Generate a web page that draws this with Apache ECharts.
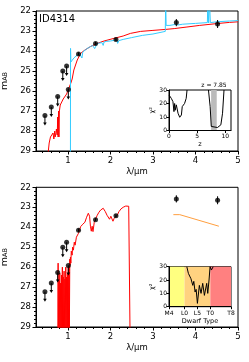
<!DOCTYPE html>
<html><head><meta charset="utf-8">
<script src="https://cdn.jsdelivr.net/npm/echarts@6/dist/echarts.min.js"></script>
<style>html,body{margin:0;padding:0;background:#fff}#c{width:249px;height:362px}</style>
</head><body><div id="c"></div>
<script>
// ---- photometry ----
const limX = [0.46, 0.61, 0.76, 0.88, 0.97, 1.01];
const limY = [27.23, 26.80, 26.27, 25.00, 24.75, 25.92];
const limLen = 0.5;
const detX = [1.25, 1.65, 2.13, 3.55, 4.52];
const detY = [24.15, 23.62, 23.43, 22.58, 22.65];
const detErr = [0.08, 0.07, 0.07, 0.18, 0.20];

// ---- galaxy template (red, top) ----
const galX = [0.53, 0.56, 0.59, 0.61, 0.63, 0.65, 0.67, 0.69, 0.70, 0.72, 0.73, 0.75, 0.76, 0.77, 0.78, 0.79, 0.80, 0.82, 0.85, 0.89, 0.93, 0.97, 1.02, 1.07, 1.10, 1.14, 1.18, 1.22, 1.30, 1.40, 1.53, 1.69, 1.85, 2.08, 2.30, 2.47, 2.71, 3.0, 3.3, 3.5, 3.8, 4.1, 4.5, 4.8, 5.0];
const galY = [29.2, 28.6, 28.3, 28.2, 28.35, 28.1, 28.4, 28.0, 28.3, 28.1, 27.9, 28.2, 27.3, 28.3, 27.0, 28.3, 27.0, 26.7, 26.6, 26.4, 26.3, 26.15, 25.87, 25.6, 25.4, 24.95, 24.7, 24.45, 24.12, 23.95, 23.78, 23.62, 23.5, 23.37, 23.25, 23.12, 23.02, 22.97, 22.92, 22.88, 22.8, 22.72, 22.63, 22.57, 22.54];

// ---- alternative template (cyan, top) ----
const cyX = [1.06, 1.062, 1.07, 1.10, 1.14, 1.18, 1.22, 1.27, 1.30, 1.33, 1.35, 1.38, 1.45, 1.53, 1.58, 1.61, 1.63, 1.69, 1.75, 1.80, 1.83, 1.85, 1.90, 2.0, 2.10, 2.15, 2.17, 2.20, 2.30, 2.5, 2.75, 3.0, 3.29, 3.30, 3.31, 3.4, 3.5, 3.54, 3.58, 3.7, 4.0, 4.28, 4.29, 4.31, 4.33, 4.35, 4.37, 4.5, 4.8, 5.0];
const cyY = [29.5, 23.87, 24.55, 24.45, 24.35, 24.25, 24.2, 24.12, 24.1, 24.35, 24.05, 23.98, 23.88, 23.78, 23.72, 23.75, 23.88, 23.62, 23.6, 23.58, 23.72, 23.55, 23.52, 23.5, 23.46, 23.45, 23.62, 23.48, 23.42, 23.33, 23.22, 23.15, 23.02, 21.5, 22.72, 22.72, 22.68, 22.78, 22.7, 22.66, 22.62, 22.58, 21.5, 22.6, 21.5, 22.58, 22.55, 22.54, 22.5, 22.48];

// ---- brown dwarf template (red, bottom) ----
const bdX = [0.766, 0.770, 0.774, 0.786, 0.790, 0.794, 0.806, 0.810, 0.814, 0.826, 0.830, 0.834, 0.846, 0.850, 0.854, 0.866, 0.870, 0.874, 0.886, 0.890, 0.894, 0.906, 0.910, 0.914, 0.926, 0.930, 0.934, 0.946, 0.950, 0.954, 0.966, 0.970, 0.974, 0.986, 0.990, 0.994, 1.006, 1.010, 1.014, 1.026, 1.030, 1.034, 1.045,
  1.05, 1.06, 1.07, 1.08, 1.10, 1.11, 1.13, 1.15, 1.17, 1.20, 1.22, 1.25, 1.28, 1.30, 1.35, 1.40, 1.44, 1.48, 1.51, 1.53, 1.55, 1.57, 1.59, 1.62, 1.65, 1.69, 1.73, 1.77, 1.83, 1.88, 1.92, 1.95, 1.98, 2.01, 2.04, 2.06, 2.09, 2.12, 2.16, 2.20, 2.25, 2.30, 2.36, 2.43, 2.46, 2.462];
const bdY = [29.5, 25.8, 29.5, 29.5, 26.7, 29.5, 29.5, 26.3, 29.5, 29.5, 26.8, 29.5, 29.5, 26.4, 29.5, 29.5, 26.0, 29.5, 29.5, 26.5, 29.5, 29.5, 26.2, 29.5, 29.5, 26.6, 29.5, 29.5, 26.0, 29.5, 29.5, 26.5, 29.5, 29.5, 26.3, 29.5, 29.5, 26.0, 29.5, 29.5, 25.9, 29.5, 25.6,
  25.9, 25.5, 25.8, 25.2, 25.4, 25.0, 25.15, 24.75, 24.9, 24.5, 24.6, 24.3, 24.1, 23.97, 23.85, 23.75, 23.5, 23.3, 23.45, 23.95, 24.2, 23.95, 24.22, 23.75, 23.6, 23.4, 23.25, 23.14, 23.05, 23.22, 23.4, 23.5, 23.6, 23.45, 23.55, 23.7, 23.55, 23.45, 23.4, 23.22, 23.08, 23.0, 22.94, 22.95, 22.97, 29.5];

// ---- orange model (bottom) ----
const orX = [3.48, 3.63, 4.55];
const orY = [23.37, 23.37, 23.95];

// ---- chi2 vs redshift ----
const zA = [0, 0.41, 0.7, 0.88, 1.0, 1.1, 1.3, 1.6, 1.9, 2.2, 2.35, 2.76, 3.05, 3.2];
const chiA = [26.3, 23.8, 21.4, 14, 20, 15, 19, 12.8, 9.8, 11.5, 17.7, 20, 23.8, 30];
const zB = [7.0, 7.3, 7.5, 7.76, 8.6, 9.2, 9.5, 9.76];
const chiB = [30, 17.7, 3, 1.7, 2.2, 4.2, 12.8, 30];
const zRange = [[7.47, 8.47]];
const zLabel = 'z = 7.85';

// ---- chi2 vs dwarf type (0 = M4 ... 24 = T8) ----
const dtIdx = [6.9, 7.5, 8.0, 8.5, 9.2, 9.6, 10.1, 10.5, 11.0, 11.75, 12.4, 13.05, 13.7, 14.6, 15.0, 15.5, 15.9, 16.4, 16.8, 17.1];
const dtChi = [30, 25, 23, 21, 16, 19, 11, 13, 2.5, 16, 10, 17.5, 8.5, 17.5, 10, 20, 30, 27.5, 29, 30];
const dtTickIdx = [0, 6, 11, 16, 24];
const dtTickLab = ['M4', 'L0', 'L5', 'T0', 'T8'];
const dtBands = [[0, 6], [6, 16], [16, 24]];

const xTicks = [1, 2, 3, 4, 5];
const magTicksMin = 22, magTicksMax = 29;

// ---------------------------------------------------------
const FF = 'DejaVu Sans';
const bandColors = ['#ffff80', '#ffd280', '#ff8080'];
const zip = (a, b) => a.map((v, i) => [v, b[i]]);
const xMinor = [];
for (let v = 0.4; v < 5; v += 0.2) { const r = Math.round(v * 10) / 10; if (Math.abs(r - Math.round(r)) > 1e-6) xMinor.push(r); }

function limRender(params, api) {
  const x = api.value(0), y = api.value(1);
  const p0 = api.coord([x, y]);
  const p1 = api.coord([x, y + limLen]);
  return { type: 'group', children: [
    { type: 'line', shape: { x1: p0[0], y1: p0[1], x2: p1[0], y2: p1[1] - 2 }, style: { stroke: '#000', lineWidth: 1 } },
    { type: 'polygon', shape: { points: [[p1[0] - 1.8, p1[1] - 3], [p1[0] + 1.8, p1[1] - 3], [p1[0], p1[1]]] }, style: { fill: '#000' } }
  ]};
}
function errRender(params, api) {
  const x = api.value(0), y = api.value(1), e = api.value(2);
  const a = api.coord([x, y - e]), b = api.coord([x, y + e]);
  return { type: 'line', shape: { x1: a[0], y1: a[1], x2: b[0], y2: b[1] }, style: { stroke: '#000', lineWidth: 1 } };
}
function bandRender(colors) {
  return function (params, api) {
    const a = api.coord([api.value(0), 30]), b = api.coord([api.value(1), 0]);
    return { type: 'rect', shape: { x: a[0], y: a[1], width: b[0] - a[0], height: b[1] - a[1] }, style: { fill: colors[params.dataIndex % colors.length] } };
  };
}

const mainX = (g) => ({
  gridIndex: g, type: 'value', min: 0.25, max: 5,
  axisLine: { show: true, onZero: false, lineStyle: { color: '#000', width: 1 } },
  axisTick: { show: true, length: 3.5, customValues: xTicks, lineStyle: { color: '#000' } },
  axisLabel: { customValues: xTicks, margin: 5, color: '#000', fontSize: 8.5, fontFamily: FF },
  splitLine: { show: false },
  name: 'λ/μm', nameLocation: 'middle', nameGap: 16, nameTextStyle: { color: '#000', fontSize: 8.5, fontFamily: FF }
});
const minorX = (g) => ({
  gridIndex: g, type: 'value', min: 0.25, max: 5, position: 'bottom',
  axisLine: { show: false }, axisLabel: { show: false }, splitLine: { show: false },
  axisTick: { show: true, length: 2, customValues: xMinor, lineStyle: { color: '#000' } }
});
const mainY = (g) => ({
  gridIndex: g, type: 'value', min: magTicksMin, max: magTicksMax, interval: 1, inverse: true,
  axisLine: { show: true, onZero: false, lineStyle: { color: '#000', width: 1 } },
  axisTick: { show: true, length: 3.5, lineStyle: { color: '#000' } },
  minorTick: { show: true, splitNumber: 5, length: 2, lineStyle: { color: '#000' } },
  axisLabel: { margin: 5, color: '#000', fontSize: 8.5, fontFamily: FF },
  splitLine: { show: false },
  name: '{a|m}{b|AB}', nameLocation: 'middle', nameGap: 20, nameRotate: 90,
  nameTextStyle: { color: '#000', fontFamily: FF, rich: {
    a: { fontSize: 9.5, fontFamily: FF, color: '#000' },
    b: { fontSize: 6.5, fontFamily: FF, color: '#000', verticalAlign: 'bottom', lineHeight: 8 } } }
});
const insetY = (g) => ({
  gridIndex: g, type: 'value', min: 0, max: 30, interval: 10, z: 8,
  axisLine: { show: true, onZero: false, lineStyle: { color: '#000', width: 1 } },
  axisTick: { show: true, length: 2.5, lineStyle: { color: '#000' } },
  axisLabel: { margin: 2, color: '#000', fontSize: 6, fontFamily: FF },
  splitLine: { show: false },
  name: 'χ²', nameLocation: 'middle', nameGap: 9, nameRotate: 90,
  nameTextStyle: { color: '#000', fontSize: 6.5, fontFamily: FF }
});
const gridBase = { show: true, borderColor: '#000', borderWidth: 1, containLabel: false, outerBoundsMode: 'none' };

const option = {
  animation: false,
  backgroundColor: '#fff',
  grid: [
    Object.assign({ left: 36, top: 11, width: 202, height: 140, backgroundColor: 'transparent' }, gridBase),
    Object.assign({ left: 169, top: 90, width: 62, height: 40.5, backgroundColor: '#fff', z: 5 }, gridBase),
    Object.assign({ left: 36, top: 187.3, width: 202, height: 139.7, backgroundColor: 'transparent' }, gridBase),
    Object.assign({ left: 169, top: 266.7, width: 62, height: 40, backgroundColor: '#fff', z: 5 }, gridBase)
  ],
  xAxis: [
    mainX(0),
    { gridIndex: 1, type: 'value', min: 0, max: 11, z: 8,
      axisLine: { show: true, onZero: false, lineStyle: { color: '#000', width: 1 } },
      axisTick: { show: true, length: 2.5, customValues: [0, 5, 10], lineStyle: { color: '#000' } },
      axisLabel: { customValues: [0, 5, 10], margin: 3, color: '#000', fontSize: 6, fontFamily: FF },
      splitLine: { show: false },
      name: 'z', nameLocation: 'middle', nameGap: 10, nameTextStyle: { color: '#000', fontSize: 6.5, fontFamily: FF } },
    mainX(2),
    { gridIndex: 3, type: 'value', min: 0, max: 24, z: 8,
      axisLine: { show: true, onZero: false, lineStyle: { color: '#000', width: 1 } },
      axisTick: { show: true, length: 2.5, customValues: dtTickIdx, lineStyle: { color: '#000' } },
      axisLabel: { customValues: dtTickIdx, margin: 4, color: '#000', fontSize: 6, fontFamily: FF,
        formatter: (v) => { const i = dtTickIdx.indexOf(v); return i >= 0 ? dtTickLab[i] : ''; } },
      splitLine: { show: false },
      name: 'Dwarf Type', nameLocation: 'middle', nameGap: 11, nameTextStyle: { color: '#000', fontSize: 6.5, fontFamily: FF } },
    minorX(0),
    minorX(2)
  ],
  yAxis: [mainY(0), insetY(1), mainY(2), insetY(3)],
  graphic: [
    { type: 'text', left: 39, top: 14, style: { text: 'ID4314', fontSize: 10, fontFamily: FF, fill: '#000' } },
    { type: 'text', x: 214, y: 85, style: { text: zLabel, fontSize: 6, fontFamily: FF, fill: '#000', textAlign: 'center', textVerticalAlign: 'middle' } }
  ],
  series: [
    { type: 'line', xAxisIndex: 0, yAxisIndex: 0, data: zip(galX, galY), showSymbol: false, lineStyle: { color: '#ff0000', width: 1 }, clip: true, z: 2 },
    { type: 'line', xAxisIndex: 0, yAxisIndex: 0, data: zip(cyX, cyY), showSymbol: false, lineStyle: { color: '#33ccff', width: 1 }, clip: true, z: 3 },
    { type: 'custom', xAxisIndex: 0, yAxisIndex: 0, data: zip(limX, limY), renderItem: limRender, z: 4 },
    { type: 'custom', xAxisIndex: 0, yAxisIndex: 0, data: detX.map((x, i) => [x, detY[i], detErr[i]]), renderItem: errRender, z: 4 },
    { type: 'scatter', xAxisIndex: 0, yAxisIndex: 0, data: zip(limX.concat(detX), limY.concat(detY)), symbolSize: 5, itemStyle: { color: '#000' }, z: 5 },
    { type: 'custom', xAxisIndex: 1, yAxisIndex: 1, data: zRange, renderItem: bandRender(['#bbbbbb']), z: 6 },
    { type: 'line', xAxisIndex: 1, yAxisIndex: 1, data: zip(zA, chiA), showSymbol: false, lineStyle: { color: '#000', width: 1 }, clip: true, z: 7 },
    { type: 'line', xAxisIndex: 1, yAxisIndex: 1, data: zip(zB, chiB), showSymbol: false, lineStyle: { color: '#000', width: 1 }, clip: true, z: 7 },
    { type: 'line', xAxisIndex: 2, yAxisIndex: 2, data: zip(bdX, bdY), showSymbol: false, lineStyle: { color: '#ff0000', width: 1 }, clip: true, z: 2 },
    { type: 'line', xAxisIndex: 2, yAxisIndex: 2, data: zip(orX, orY), showSymbol: false, lineStyle: { color: '#ff9f3f', width: 1 }, clip: true, z: 2 },
    { type: 'custom', xAxisIndex: 2, yAxisIndex: 2, data: zip(limX, limY), renderItem: limRender, z: 4 },
    { type: 'custom', xAxisIndex: 2, yAxisIndex: 2, data: detX.map((x, i) => [x, detY[i], detErr[i]]), renderItem: errRender, z: 4 },
    { type: 'scatter', xAxisIndex: 2, yAxisIndex: 2, data: zip(limX.concat(detX), limY.concat(detY)), symbolSize: 5, itemStyle: { color: '#000' }, z: 5 },
    { type: 'custom', xAxisIndex: 3, yAxisIndex: 3, data: dtBands, renderItem: bandRender(bandColors), z: 6 },
    { type: 'line', xAxisIndex: 3, yAxisIndex: 3, data: zip(dtIdx, dtChi), showSymbol: false, lineStyle: { color: '#000', width: 1 }, clip: true, z: 7 }
  ]
};
const chart = echarts.init(document.getElementById('c'), null, { renderer: 'canvas' });
chart.setOption(option);
</script></body></html>
